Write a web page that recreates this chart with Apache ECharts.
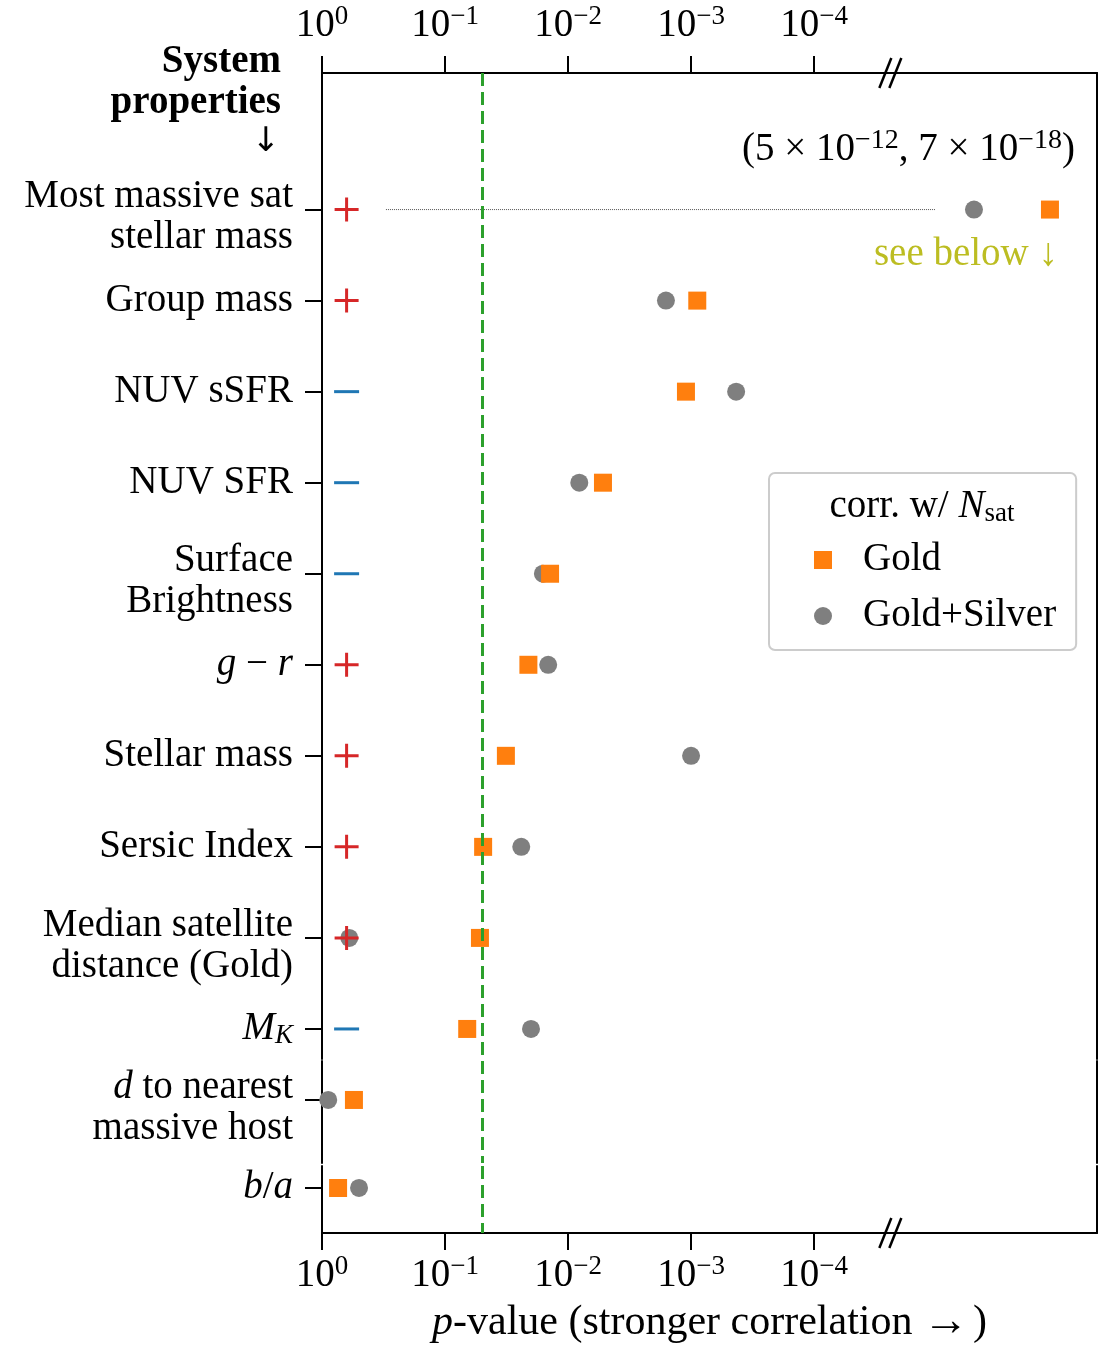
<!DOCTYPE html>
<html>
<head>
<meta charset="utf-8">
<title>p-value by system property</title>
<script src="https://cdn.jsdelivr.net/npm/echarts@6.0.0/dist/echarts.min.js"></script>
<style>
  html, body { margin: 0; padding: 0; background: #fff; }
  #chart { width: 1099px; height: 1347px; }
</style>
</head>
<body>
<div id="chart"></div>
<script>
// ---- data (top row first) ----
var rowLabels = [
  'Most massive sat\nstellar mass',
  'Group mass',
  'NUV sSFR',
  'NUV SFR',
  'Surface\nBrightness',
  '{i|g} − {i|r}',
  'Stellar mass',
  'Sersic Index',
  'Median satellite\ndistance (Gold)',
  '{i|M}{k|K}',
  '{i|d} to nearest\nmassive host',
  '{i|b}/{i|a}'
];
// sign of the correlation with N_sat
var rowSigns = ['+', '+', '-', '-', '-', '+', '+', '+', '+', '-', '', ''];
// p-values, Gold sample
var goldP   = [7e-18, 8.9e-4, 1.1e-3, 5.2e-3, 1.4e-2, 2.1e-2, 3.2e-2, 4.9e-2, 5.2e-2, 6.6e-2, 0.55, 0.74];
// p-values, Gold+Silver sample
var silverP = [5e-12, 1.6e-3, 4.3e-4, 8.1e-3, 1.6e-2, 1.45e-2, 1.0e-3, 2.4e-2, 0.60, 2.0e-2, 0.89, 0.50];
var tickPowers = [0, 1, 2, 3, 4];
var pThreshold = 0.05;
var breakAt = 4.62;          // axis break, in decades
var signPos = 0.2;           // where the +/- markers sit, in decades
var leaderSpan = [0.52, 4.99];

// which sub-panel each row lives in, and its slot there
var rowPanel = [0, 0, 0, 0, 0, 0, 0, 0, 0, 0, 1, 2];
var rowSlot  = [0, 1, 2, 3, 4, 5, 6, 7, 8, 9, 0, 0];

var FONT = 'Liberation Serif';
var FS = 39;

function toDecades(p) { return -Math.log10(p); }

var tickRich = {
  b: { fontFamily: FONT, fontSize: FS, lineHeight: 46, color: '#000' },
  s: { fontFamily: FONT, fontSize: 27, lineHeight: 20, verticalAlign: 'top', color: '#000' }
};
function tickFmt(v) { return '{b|10}{s|' + (v === 0 ? '0' : '−' + v) + '}'; }

var yRich = {
  i: { fontFamily: FONT, fontStyle: 'italic', fontSize: FS, lineHeight: 41, color: '#000' },
  k: { fontFamily: FONT, fontStyle: 'italic', fontSize: 27, lineHeight: 24, verticalAlign: 'bottom', color: '#000' },
  // two-line labels sit a little below their tick
  t: { fontFamily: FONT, fontSize: FS, lineHeight: 41, padding: [16, 0, 0, 0], color: '#000' },
  ti: { fontFamily: FONT, fontStyle: 'italic', fontSize: FS, lineHeight: 41, padding: [16, 0, 0, 0], color: '#000' }
};

function yLabel(txt) {
  var lines = txt.split('\n');
  if (lines.length < 2) return txt;
  return lines.map(function (line) {
    return line.split(/(\{[a-z]+\|[^}]*\})/).filter(function (s) { return s; }).map(function (s) {
      return s.charAt(0) === '{' ? s.replace('{i|', '{ti|') : '{t|' + s + '}';
    }).join('');
  }).join('\n');
}

var chart = echarts.init(document.getElementById('chart'));

function xAxisFor(grid, pos, show) {
  return {
    type: 'value', gridIndex: grid, min: 0, max: 6.3, position: pos, show: show,
    axisLine: { show: true, onZero: false, lineStyle: { color: '#000', width: 2 } },
    axisTick: { show: true, length: 17, customValues: tickPowers, lineStyle: { color: '#000', width: 2 } },
    axisLabel: { customValues: tickPowers, margin: pos === 'top' ? 24 : 20, rich: tickRich, formatter: tickFmt },
    splitLine: { show: false }
  };
}

function leftY(grid, min, max, slots, first) {
  return {
    type: 'value', gridIndex: grid, inverse: true, min: min, max: max, position: 'left',
    axisLine: { show: true, onZero: false, lineStyle: { color: '#000', width: 2 } },
    axisTick: { show: true, length: 17, customValues: slots, lineStyle: { color: '#000', width: 2 } },
    axisLabel: {
      customValues: slots, margin: 29, fontFamily: FONT, fontSize: FS, color: '#000',
      lineHeight: 41, align: 'right', rich: yRich,
      formatter: function (v) { return yLabel(rowLabels[first + Math.round(v)]); }
    },
    splitLine: { show: false }
  };
}

function rightY(grid, min, max) {
  return {
    type: 'value', gridIndex: grid, inverse: true, min: min, max: max, position: 'right',
    axisLine: { show: true, onZero: false, lineStyle: { color: '#000', width: 2 } },
    axisTick: { show: false }, axisLabel: { show: false }, splitLine: { show: false }
  };
}

var yRanges = [[-1.5, 9.33], [-0.382, 0.618], [-0.328, 0.672]];

function pointsFor(pList, panel, broken) {
  var out = [];
  pList.forEach(function (p, i) {
    var d = toDecades(p);
    if (rowPanel[i] !== panel) return;
    if ((d > breakAt) !== broken) return;
    out.push([d, rowSlot[i]]);
  });
  return out;
}

var thresholdLine = {
  silent: true, symbol: ['none', 'none'], label: { show: false },
  lineStyle: { color: '#2ca02c', width: 3, type: [13, 6] },
  data: [{ xAxis: toDecades(pThreshold) }]
};

var series = [];
[0, 1, 2].forEach(function (panel) {
  series.push({
    name: 'Gold+Silver', type: 'scatter', xAxisIndex: panel, yAxisIndex: panel,
    symbol: 'circle', symbolSize: 18, itemStyle: { color: '#7f7f7f', opacity: 1 },
    data: pointsFor(silverP, panel, false), markLine: thresholdLine
  });
  series.push({
    name: 'Gold', type: 'scatter', xAxisIndex: panel, yAxisIndex: panel,
    symbol: 'rect', symbolSize: 18, itemStyle: { color: '#ff7f0e', opacity: 1 },
    data: pointsFor(goldP, panel, false)
  });
});
// beyond the axis break
series.push({
  name: 'Gold+Silver', type: 'scatter', xAxisIndex: 3, yAxisIndex: 3,
  symbol: 'circle', symbolSize: 18, itemStyle: { color: '#7f7f7f', opacity: 1 },
  data: pointsFor(silverP, 0, true)
});
series.push({
  name: 'Gold', type: 'scatter', xAxisIndex: 3, yAxisIndex: 3,
  symbol: 'rect', symbolSize: 18, itemStyle: { color: '#ff7f0e', opacity: 1 },
  data: pointsFor(goldP, 0, true)
});
// leader from the row to the broken points
series.push({
  type: 'line', xAxisIndex: 0, yAxisIndex: 0, symbol: 'none', silent: true,
  lineStyle: { color: '#555', width: 1, type: 'dotted' },
  data: [[leaderSpan[0], 0], [leaderSpan[1], 0]]
});
// +/- markers
var signData = [];
rowSigns.forEach(function (s, i) {
  if (!s || rowPanel[i] !== 0) return;
  signData.push({
    value: [signPos, rowSlot[i]],
    symbol: s === '+' ? 'path://M0,10.5h24v3H0z M10.5,0h3v24h-3z' : 'path://M0,0h25v3H0z',
    symbolSize: s === '+' ? [24, 24] : [25, 3],
    itemStyle: { color: s === '+' ? '#d62728' : '#1f77b4', opacity: 1 }
  });
});
series.push({ type: 'scatter', xAxisIndex: 0, yAxisIndex: 0, silent: true, data: signData, z: 5 });

var option = {
  animation: false,
  backgroundColor: '#fff',
  textStyle: { fontFamily: FONT },
  grid: [
    { left: 322, top: 73, width: 775, height: 986, outerBoundsMode: 'none' },
    { left: 322, top: 1061, width: 775, height: 102, outerBoundsMode: 'none' },
    { left: 322, top: 1166, width: 775, height: 67, outerBoundsMode: 'none' },
    { left: 890, top: 73, width: 207, height: 986, outerBoundsMode: 'none' }
  ],
  xAxis: [
    xAxisFor(0, 'top', true),
    xAxisFor(1, 'bottom', false),
    Object.assign(xAxisFor(2, 'bottom', true), {
      name: '{i|p}{n|-value (stronger correlation }{a|→}{n|)}',
      nameLocation: 'middle', nameGap: 68,
      nameTextStyle: {
        rich: {
          i: { fontFamily: FONT, fontStyle: 'italic', fontSize: 42, lineHeight: 44, color: '#000' },
          n: { fontFamily: FONT, fontSize: 42, lineHeight: 44, color: '#000' },
          a: { fontFamily: FONT, fontSize: 46, lineHeight: 44, color: '#000', padding: [0, 4, 0, 0] }
        }
      }
    }),
    { type: 'value', gridIndex: 3, min: 4.83, max: 20.78, show: false }
  ],
  yAxis: [
    leftY(0, yRanges[0][0], yRanges[0][1], [0, 1, 2, 3, 4, 5, 6, 7, 8, 9], 0),
    leftY(1, yRanges[1][0], yRanges[1][1], [0], 10),
    leftY(2, yRanges[2][0], yRanges[2][1], [0], 11),
    { type: 'value', gridIndex: 3, inverse: true, min: yRanges[0][0], max: yRanges[0][1], show: false },
    rightY(0, yRanges[0][0], yRanges[0][1]),
    rightY(1, yRanges[1][0], yRanges[1][1]),
    rightY(2, yRanges[2][0], yRanges[2][1])
  ],
  legend: {
    data: [{ name: 'Gold', icon: 'rect' }, { name: 'Gold+Silver', icon: 'circle' }],
    orient: 'vertical', left: 769, top: 473,
    padding: [67, 20, 14, 45], itemGap: 16, itemWidth: 18, itemHeight: 18,
    backgroundColor: 'rgba(255,255,255,0.8)', borderColor: '#cccccc', borderWidth: 2, borderRadius: 6,
    selectedMode: false,
    textStyle: { fontFamily: FONT, fontSize: FS, color: '#000', lineHeight: 40, padding: [0, 0, 0, 26] }
  },
  series: series
};
chart.setOption(option);

// decorations placed from the axes
var bx = chart.convertToPixel({ xAxisIndex: 0 }, breakAt);
var yTop = 73, yBot = 1233;
function slashes(yc) {
  return [-5, 5].map(function (dx) {
    return {
      type: 'line', z: 50, silent: true,
      shape: { x1: bx + dx - 6, y1: yc + 15, x2: bx + dx + 6, y2: yc - 15 },
      style: { stroke: '#000', lineWidth: 2.5 }
    };
  });
}
var supRich = {
  n: { fontFamily: FONT, fontSize: FS, lineHeight: 46, fill: '#000' },
  s: { fontFamily: FONT, fontSize: 28, lineHeight: 20, verticalAlign: 'top', fill: '#000' }
};
chart.setOption({
  graphic: slashes(yTop).concat(slashes(yBot)).concat([
    {
      type: 'text', x: 281, y: 101, silent: true,
      style: {
        text: '{b|System}\n{b|properties}\n{a|↓}', align: 'right', verticalAlign: 'middle',
        rich: {
          b: { fontFamily: FONT, fontWeight: 'bold', fontSize: FS, lineHeight: 41, fill: '#000' },
          a: { fontFamily: 'DejaVu Sans', fontSize: 34, lineHeight: 38, fill: '#000', padding: [0, 1, 0, 0] }
        }
      }
    },
    {
      type: 'text', x: 1075, y: 150, silent: true,
      style: {
        text: '{n|(5\u2005×\u200510}{s|−12}{n|, 7\u2005×\u200510}{s|−18}{n|)}', align: 'right', verticalAlign: 'middle',
        rich: supRich
      }
    },
    {
      type: 'text', x: 1058, y: 255, silent: true,
      style: {
        text: 'see below ↓', align: 'right', verticalAlign: 'middle',
        fontFamily: FONT, fontSize: FS, fill: '#bcbd22'
      }
    },
    {
      type: 'text', x: 922, y: 507, z: 100, silent: true,
      style: {
        text: '{n|corr. w/ }{i|N}{s|sat}', align: 'center', verticalAlign: 'middle',
        rich: {
          n: { fontFamily: FONT, fontSize: FS, lineHeight: 40, fill: '#000' },
          i: { fontFamily: FONT, fontStyle: 'italic', fontSize: FS, lineHeight: 40, fill: '#000' },
          s: { fontFamily: FONT, fontSize: 27, lineHeight: 24, verticalAlign: 'bottom', fill: '#000' }
        }
      }
    }
  ])
});
</script>
</body>
</html>
